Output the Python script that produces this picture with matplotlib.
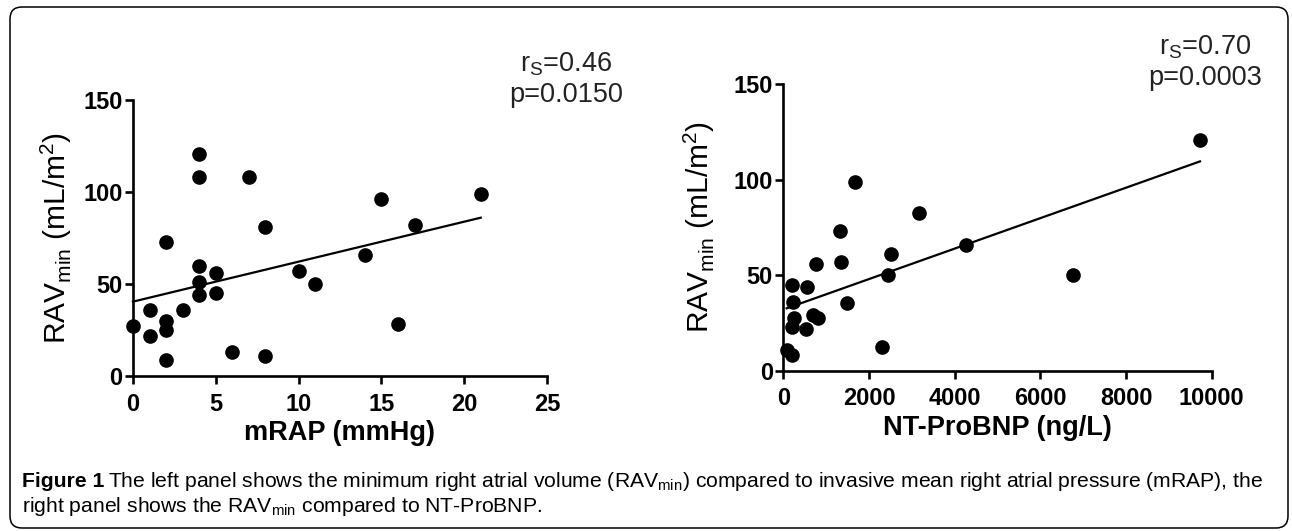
import numpy as np
import matplotlib
matplotlib.use("Agg")
import matplotlib.pyplot as plt
from matplotlib.patches import FancyBboxPatch

plt.rcParams['font.family'] = ['Liberation Sans', 'DejaVu Sans']

# Left panel: mRAP vs RAVmin
mrap = [0, 1, 1, 2, 2, 2, 2, 3, 4, 4, 4, 4, 4, 5, 5, 6, 7, 8, 8, 10, 11, 14, 15, 16, 17, 21]
rav_left = [27, 36, 22, 73, 30, 25, 8.5, 36, 120.6, 108, 60, 51, 44, 56, 45, 13, 108, 81, 11, 57, 50, 66, 96, 28, 82, 99]

# Right panel: NT-ProBNP vs RAVmin
ntprobnp = [195, 233, 250, 195, 78, 195, 545, 525, 755, 700, 815, 1323, 1347, 1480, 1674,
            2311, 2437, 2507, 3175, 4265, 6769, 9727]
rav_right = [44.8, 36.1, 27.4, 23.0, 10.8, 8.2, 44, 21.6, 55.8, 29.1, 27.7, 73.3, 56.7, 35.2, 98.6,
             12.6, 50.1, 60.9, 82.3, 65.8, 50.1, 120.7]

stats_left = "r$_{\\mathregular{S}}$=0.46\np=0.0150"
stats_right = "r$_{\\mathregular{S}}$=0.70\np=0.0003"

W, H = 1292, 531
fig = plt.figure(figsize=(W / 100, H / 100), dpi=100)

ax1 = fig.add_axes([133 / W, 1 - 376 / H, (547 - 133) / W, (376 - 100) / H])
ax2 = fig.add_axes([783.3 / W, 1 - 370.7 / H, (1211.7 - 783.3) / W, (370.7 - 84) / H])


def style(ax, x, y, xlim, xticks, xlabel, ylab_x):
    ax.plot(x, y, 'o', color='black', markersize=9.5, clip_on=False, zorder=3)
    k, b = np.polyfit(x, y, 1)
    xs = np.array([min(x), max(x)])
    ax.plot(xs, k * xs + b, color='black', lw=1.6, clip_on=False)
    ax.set_xlim(*xlim)
    ax.set_ylim(0, 150)
    ax.set_xticks(xticks)
    ax.set_yticks([0, 50, 100, 150])
    for s in ['top', 'right']:
        ax.spines[s].set_visible(False)
    for s in ['left', 'bottom']:
        ax.spines[s].set_linewidth(1.9)
    ax.tick_params(direction='out', length=6, width=1.9, labelsize=17)
    ax.tick_params(axis='x', pad=6)
    ax.tick_params(axis='y', pad=1.5)
    for lab in ax.get_xticklabels() + ax.get_yticklabels():
        lab.set_fontweight('bold')
    ax.set_xlabel(xlabel, fontsize=19.5, fontweight='bold', labelpad=3)
    ax.set_ylabel("RAV$_{\\mathregular{min}}$ (mL/m$^{\\mathregular{2}}$)", fontsize=21.5)
    ax.yaxis.set_label_coords(ylab_x, 0.5)


style(ax1, mrap, rav_left, (0, 25), [0, 5, 10, 15, 20, 25], "mRAP (mmHg)", -0.1425)
style(ax2, ntprobnp, rav_right, (0, 10000), [0, 2000, 4000, 6000, 8000, 10000], "NT-ProBNP (ng/L)", -0.1548)

fig.text(566 / W, 1 - 102 / H, stats_left, ha='center', va='baseline', fontsize=19.5,
         color='#222222', linespacing=1.22, multialignment='center')
fig.text(1205 / W, 1 - 85 / H, stats_right, ha='center', va='baseline', fontsize=19.5,
         color='#222222', linespacing=1.22, multialignment='center')

# caption, sized so that the first line runs to the right margin
cap_font = ['Liberation Sans', 'DejaVu Sans']
cap_rest = ("The left panel shows the minimum right atrial volume (RAV$_{\\mathregular{min}}$) compared to "
            "invasive mean right atrial pressure (mRAP), the")
cap_line2 = "right panel shows the RAV$_{\\mathregular{min}}$ compared to NT-ProBNP."

size = 12
t1 = fig.text(22 / W, 1 - 487 / H, "Figure 1", fontsize=size, fontweight='bold',
              family=cap_font, va='baseline')
t2 = fig.text(0, 1 - 487 / H, cap_rest, fontsize=size, family=cap_font, va='baseline')
fig.canvas.draw()
r = fig.canvas.get_renderer()
total = t1.get_window_extent(r).width + 4 + t2.get_window_extent(r).width
size = size * (1265 - 22) / total
t1.set_fontsize(size)
t2.set_fontsize(size)
fig.canvas.draw()
t2.set_x((t1.get_window_extent(r).x1 + 4) / W)
fig.text(22 / W, 1 - 512 / H, cap_line2, fontsize=size, family=cap_font, va='baseline')

border = FancyBboxPatch((0.10, 0.03), 12.78, 5.21, boxstyle="round,pad=0,rounding_size=0.12",
                        transform=fig.dpi_scale_trans, fill=False, edgecolor='black', lw=1.1)
fig.patches.append(border)

fig.savefig("out.png", dpi=100)
